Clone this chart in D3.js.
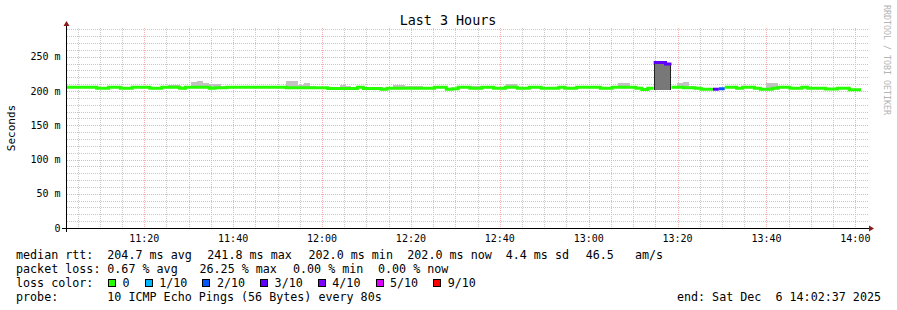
<!DOCTYPE html>
<html>
<head>
<meta charset="utf-8">
<script src="https://cdn.jsdelivr.net/npm/d3@7"></script>
<style>
  body { margin: 0; background: #fff; }
  text { font-family: "DejaVu Sans Mono", monospace; white-space: pre; }
</style>
</head>
<body>
<script>
// time range of the graph, one rrd step = 80 s
const endTime = new Date(2025, 11, 6, 14, 2, 37);
const startTime = new Date(+endTime - 3 * 3600 * 1000);
const stepSec = 80;

// median rtt per step (ms)
const median = [
  205.5, 205.5, 205.5, 205.5, 205.5, 204.0, 204.0, 205.5, 205.5, 204.0,
  204.0, 205.5, 205.5, 205.5, 204.0, 204.0, 205.5, 205.5, 205.5, 204.0,
  205.5, 205.5, 205.5, 205.5, 204.0, 204.6, 204.6, 205.5, 205.5, 205.5,
  205.5, 205.5, 205.5, 205.5, 205.5, 205.5, 205.5, 204.6, 204.6, 204.6,
  204.6, 204.6, 204.6, 204.6, 203.8, 203.8, 203.8, 203.8, 203.8, 205.5,
  203.6, 203.6, 203.6, 202.5, 204.0, 204.0, 204.0, 204.0, 204.0, 204.0,
  204.0, 204.0, 205.5, 205.5, 202.4, 203.2, 205.5, 205.5, 204.0, 204.0,
  205.5, 205.5, 204.0, 204.0, 205.5, 205.5, 204.0, 204.0, 205.5, 205.5,
  204.0, 204.0, 204.0, 205.5, 204.0, 204.0, 205.5, 205.5, 205.5, 205.5,
  204.0, 204.0, 205.5, 205.5, 205.5, 205.5, 204.0, 202.3, 204.0, 241.8,
  241.8, 239.3, 205.5, 205.5, 204.8, 204.8, 204.0, 202.6, 202.6, 202.6,
  203.3, 205.5, 205.5, 204.0, 205.5, 205.5, 204.0, 202.6, 202.6, 204.0,
  205.5, 205.5, 204.0, 204.0, 205.5, 204.0, 204.0, 204.0, 202.8, 202.8,
  204.0, 204.0, 202.0, 202.0
];

// steps with packet loss (%)
const lossSteps = [99, 100, 101, 109, 110];
const lossPct = [26.25, 26.25, 23.75, 21.25, 12.5];

// smoke: upper extent of the ping spread (ms)
const smokeSteps = [17, 18, 21, 22, 23, 24, 25, 26, 37, 38, 39, 40, 41, 46, 47,
  55, 56, 57, 58, 59, 62, 63, 68, 69, 74, 75, 93, 94, 103, 104, 105, 118, 119, 125];
const smokeTop = [209, 209, 212.5, 214, 212, 210, 210, 208, 214, 214, 209, 211, 208, 209, 207.5,
  208.5, 208.5, 207.5, 207.5, 207.5, 208, 208, 208, 208, 210, 210, 211, 211, 211, 213, 207, 212, 212, 206.5];

// dense smoke (dark) low / high (ms)
const denseSteps = [62, 63, 99, 100, 101];
const denseLo = [205.6, 205.6, 202.2, 202.2, 202.2];
const denseHi = [207.6, 207.6, 241.5, 241.5, 239.0];

// loss colour legend (lost pings of 10)
const lossLevels = [0, 1, 2, 3, 4, 5, 9];
const lossLabels = ['0', '1/10', '2/10', '3/10', '4/10', '5/10', '9/10'];
const lossColors = ['#26ff00', '#00b8ff', '#0059ff', '#5e00ff', '#7e00ff', '#dd00ff', '#ff0000'];

const yTicks = [0, 50, 100, 150, 200, 250];

const rttStats = ['204.7 ms avg', '241.8 ms max', '202.0 ms min', '202.0 ms now', '4.4 ms sd', '46.5   am/s'];
const lossStats = ['0.67 % avg', '26.25 % max', '0.00 % min', '0.00 % now'];
const probeText = '10 ICMP Echo Pings (56 Bytes) every 80s';
const endText = 'end: Sat Dec  6 14:02:37 2025';

const W = 897, H = 310;
const svg = d3.select('body').append('svg')
  .attr('width', W)
  .attr('height', H)
  .style('display', 'block');

svg.append('rect').attr('width', W).attr('height', H).attr('fill', '#fff');

const x = d3.scaleTime().domain([startTime, endTime]).range([67, 867]);
const y = d3.scaleLinear().domain([0, 292]).range([228, 28]);
const stepX = i => x(new Date(+startTime + i * stepSec * 1000));

// grid
const grid = svg.append('g').attr('shape-rendering', 'crispEdges');
const minorX = d3.timeMinute.every(5).range(startTime, endTime);
const majorX = d3.timeMinute.every(20).range(startTime, endTime);

minorX.filter(d => d.getMinutes() % 20 !== 0).forEach(d => {
  grid.append('line')
    .attr('x1', Math.round(x(d)) + 0.5).attr('x2', Math.round(x(d)) + 0.5)
    .attr('y1', 28).attr('y2', 228)
    .attr('stroke', '#c8c8c8').attr('stroke-dasharray', '1,1');
});
d3.range(10, 292, 10).filter(v => v % 50 !== 0).forEach(v => {
  grid.append('line')
    .attr('x1', 67).attr('x2', 869)
    .attr('y1', Math.round(y(v)) + 0.5).attr('y2', Math.round(y(v)) + 0.5)
    .attr('stroke', '#c8c8c8').attr('stroke-dasharray', '1,1');
});
majorX.forEach(d => {
  grid.append('line')
    .attr('x1', Math.round(x(d)) + 0.5).attr('x2', Math.round(x(d)) + 0.5)
    .attr('y1', 28).attr('y2', 228)
    .attr('stroke', '#f2b0b0').attr('stroke-dasharray', '1,1');
});
yTicks.filter(v => v > 0).forEach(v => {
  grid.append('line')
    .attr('x1', 67).attr('x2', 869)
    .attr('y1', Math.round(y(v)) + 0.5).attr('y2', Math.round(y(v)) + 0.5)
    .attr('stroke', '#f2b0b0').attr('stroke-dasharray', '1,1');
});

// smoke
const marks = svg.append('g').attr('shape-rendering', 'crispEdges');
smokeSteps.forEach((s, k) => {
  marks.append('rect')
    .attr('x', stepX(s)).attr('width', stepX(s + 1) - stepX(s))
    .attr('y', y(smokeTop[k])).attr('height', y(median[s]) - y(smokeTop[k]))
    .attr('fill', '#c2c2c2');
});

// dense smoke, drawn per run so the run edges get a dark border
let runs = [];
denseSteps.forEach(s => {
  const last = runs[runs.length - 1];
  if (last && last[last.length - 1] === s - 1) last.push(s); else runs.push([s]);
});
runs.forEach(run => {
  run.forEach(s => {
    const k = denseSteps.indexOf(s);
    marks.append('rect')
      .attr('x', stepX(s)).attr('width', stepX(s + 1) - stepX(s))
      .attr('y', y(denseHi[k])).attr('height', y(denseLo[k]) - y(denseHi[k]))
      .attr('fill', '#787878');
  });
  const a = denseSteps.indexOf(run[0]), b = denseSteps.indexOf(run[run.length - 1]);
  const xa = Math.round(stepX(run[0])) + 0.5, xb = Math.round(stepX(run[run.length - 1] + 1)) - 0.5;
  marks.append('line').attr('x1', xa).attr('x2', xa)
    .attr('y1', y(denseHi[a])).attr('y2', y(denseLo[a])).attr('stroke', '#222');
  marks.append('line').attr('x1', xb).attr('x2', xb)
    .attr('y1', y(denseHi[b])).attr('y2', y(denseLo[b])).attr('stroke', '#222');
});

// median line coloured by loss
const lossOf = i => { const k = lossSteps.indexOf(i); return k < 0 ? 0 : lossPct[k]; };
const bucket = i => lossLevels.findIndex(l => lossOf(i) / 10 <= l + 1e-9);
let segs = [];
median.forEach((v, i) => {
  const b = bucket(i);
  const last = segs[segs.length - 1];
  if (last && last.b === b && last.end === i - 1) {
    last.d += `V${y(v)}H${stepX(i + 1)}`;
    last.end = i;
  } else {
    segs.push({ b: b, end: i, d: `M${stepX(i)},${y(v)}H${stepX(i + 1)}` });
  }
});
svg.append('g').selectAll('path')
  .data(segs).enter()
  .append('path')
  .attr('d', d => d.d)
  .attr('fill', 'none')
  .attr('stroke', d => lossColors[d.b])
  .attr('stroke-width', 3)
  .attr('stroke-linecap', 'butt')
  .attr('stroke-linejoin', 'miter');

// axes
const axis = svg.append('g').attr('shape-rendering', 'crispEdges');
axis.append('line').attr('x1', 62).attr('x2', 870).attr('y1', 228.5).attr('y2', 228.5).attr('stroke', '#000');
axis.append('line').attr('x1', 66.5).attr('x2', 66.5).attr('y1', 232).attr('y2', 25).attr('stroke', '#000');
svg.append('path').attr('d', 'M869,225.5L874,228.5L869,231.5Z').attr('fill', '#8b1a1a');
svg.append('path').attr('d', 'M63.5,26L66.5,21L69.5,26Z').attr('fill', '#8b1a1a');

svg.append('g').selectAll('text')
  .data(yTicks).enter()
  .append('text')
  .attr('x', 60.5)
  .attr('y', d => y(d))
  .attr('dy', '0.36em')
  .attr('text-anchor', 'end')
  .attr('font-size', '10px')
  .attr('fill', '#000')
  .text(d => d === 0 ? '0' : d + ' m');

svg.append('g').selectAll('text')
  .data(majorX).enter()
  .append('text')
  .attr('x', d => x(d))
  .attr('y', 241.5)
  .attr('text-anchor', 'middle')
  .attr('font-size', '10px')
  .attr('fill', '#000')
  .text(d => d3.timeFormat('%H:%M')(d));

// titles
svg.append('text').attr('x', 448).attr('y', 24.5).attr('text-anchor', 'middle')
  .attr('font-size', '13.4px').text('Last 3 Hours');
svg.append('text').attr('transform', 'translate(15,128) rotate(-90)')
  .attr('text-anchor', 'middle').attr('font-size', '11px').text('Seconds');
svg.append('text').attr('transform', 'translate(884,5) rotate(90)')
  .attr('font-size', '8.3px').attr('fill', '#b4b4b4').text('RRDTOOL / TOBI OETIKER');

// legend
const leg = svg.append('g').attr('font-size', '11.7px').attr('fill', '#000');
const rows = [258.5, 272.5, 286.5, 300.5];
leg.append('text').attr('x', 16).attr('y', rows[0]).text('median rtt:');
const rttX = [107.3, 207.3, 308.5, 407.3, 505.7, 585.7];
rttStats.forEach((t, k) => leg.append('text').attr('x', rttX[k]).attr('y', rows[0]).text(t));
leg.append('text').attr('x', 16).attr('y', rows[1]).text('packet loss:');
const lossX = [107.3, 199.5, 293, 378];
lossStats.forEach((t, k) => leg.append('text').attr('x', lossX[k]).attr('y', rows[1]).text(t));
leg.append('text').attr('x', 16).attr('y', rows[2]).text('loss color:');
let lx = 108.5;
lossLabels.forEach((t, k) => {
  leg.append('rect').attr('x', lx).attr('y', rows[2] - 7.5).attr('width', 7).attr('height', 7)
    .attr('fill', lossColors[k]).attr('stroke', '#000').attr('shape-rendering', 'crispEdges');
  leg.append('text').attr('x', lx + 14).attr('y', rows[2]).text(t);
  lx += 14 + t.length * 7 + 15.7;
});
leg.append('text').attr('x', 16).attr('y', rows[3]).text('probe:');
leg.append('text').attr('x', 107.3).attr('y', rows[3]).text(probeText);
leg.append('text').attr('x', 881).attr('y', rows[3]).attr('text-anchor', 'end').text(endText);
</script>
</body>
</html>
